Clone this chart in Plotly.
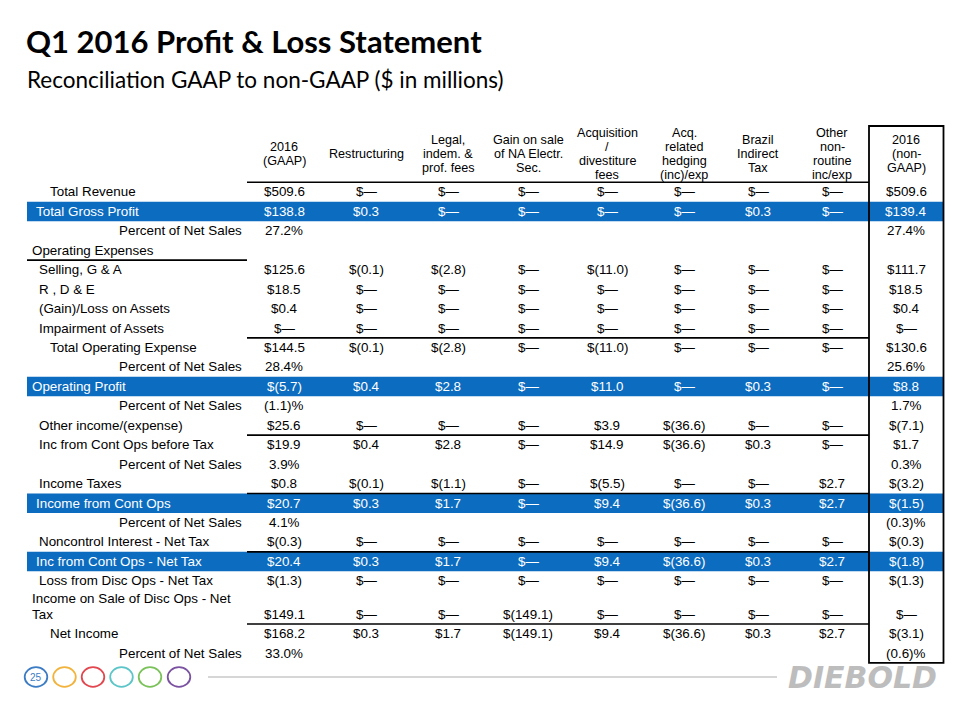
import plotly.graph_objects as go

# ---------------- data ----------------
title = "Q1 2016 Profit & Loss Statement"
subtitle = "Reconciliation GAAP to non-GAAP ($ in millions)"
page_number = "25"
logo_text = "DIEBOLD"

column_headers = [
    "2016<br>(GAAP)",
    "Restructuring",
    "Legal,<br>indem. &<br>prof. fees",
    "Gain on sale<br>of NA Electr.<br>Sec.",
    "Acquisition<br>/<br>divestiture<br>fees",
    "Acq.<br>related<br>hedging<br>(inc)/exp",
    "Brazil<br>Indirect<br>Tax",
    "Other<br>non-<br>routine<br>inc/exp",
    "2016<br>(non-<br>GAAP)",
]

row_labels = [
    "Total Revenue",
    "Total Gross Profit",
    "Percent of Net Sales",
    "Operating Expenses",
    "Selling, G & A",
    "R , D & E",
    "(Gain)/Loss on Assets",
    "Impairment of Assets",
    "Total Operating Expense",
    "Percent of Net Sales",
    "Operating Profit",
    "Percent of Net Sales",
    "Other income/(expense)",
    "Inc from Cont Ops before Tax",
    "Percent of Net Sales",
    "Income Taxes",
    "Income from Cont Ops",
    "Percent of Net Sales",
    "Noncontrol Interest - Net Tax",
    "Inc from Cont Ops - Net Tax",
    "Loss from Disc Ops - Net Tax",
    "Income on Sale of Disc Ops - Net<br>Tax",
    "Net Income",
    "Percent of Net Sales",
]

D = "$—"
gaap = ["$509.6", "$138.8", "27.2%", "", "$125.6", "$18.5", "$0.4", D, "$144.5", "28.4%",
        "$(5.7)", "(1.1)%", "$25.6", "$19.9", "3.9%", "$0.8", "$20.7", "4.1%", "$(0.3)",
        "$20.4", "$(1.3)", "$149.1", "$168.2", "33.0%"]
restructuring = [D, "$0.3", "", "", "$(0.1)", D, D, D, "$(0.1)", "", "$0.4", "", D, "$0.4", "",
                 "$(0.1)", "$0.3", "", D, "$0.3", D, D, "$0.3", ""]
legal_fees = [D, D, "", "", "$(2.8)", D, D, D, "$(2.8)", "", "$2.8", "", D, "$2.8", "",
              "$(1.1)", "$1.7", "", D, "$1.7", D, D, "$1.7", ""]
gain_on_sale = [D, D, "", "", D, D, D, D, D, "", D, "", D, D, "", D, D, "", D, D, D,
                "$(149.1)", "$(149.1)", ""]
acquisition_fees = [D, D, "", "", "$(11.0)", D, D, D, "$(11.0)", "", "$11.0", "", "$3.9", "$14.9", "",
                    "$(5.5)", "$9.4", "", D, "$9.4", D, D, "$9.4", ""]
hedging = [D, D, "", "", D, D, D, D, D, "", D, "", "$(36.6)", "$(36.6)", "", D, "$(36.6)", "",
           D, "$(36.6)", D, D, "$(36.6)", ""]
brazil_tax = [D, "$0.3", "", "", D, D, D, D, D, "", "$0.3", "", D, "$0.3", "", D, "$0.3", "",
              D, "$0.3", D, D, "$0.3", ""]
other_nonroutine = [D, D, "", "", D, D, D, D, D, "", D, "", D, D, "", "$2.7", "$2.7", "",
                    D, "$2.7", D, D, "$2.7", ""]
non_gaap = ["$509.6", "$139.4", "27.4%", "", "$111.7", "$18.5", "$0.4", D, "$130.6", "25.6%",
            "$8.8", "1.7%", "$(7.1)", "$1.7", "0.3%", "$(3.2)", "$(1.5)", "(0.3)%", "$(0.3)",
            "$(1.8)", "$(1.3)", D, "$(3.1)", "(0.6)%"]

columns = [gaap, restructuring, legal_fees, gain_on_sale, acquisition_fees,
           hedging, brazil_tax, other_nonroutine, non_gaap]

# ---------------- layout / style ----------------
PAGE_W, PAGE_H = 960, 720
BODY_MARGIN = 8          # browser default body margin offsets the figure
TABLE_FONT = "Liberation Sans, Arial, sans-serif"
TITLE_FONT = "Lato, Open Sans, sans-serif"
FS = 13.4
HEADER_FS = 12.6
BLUE = "#0C6CBF"
col_x = [284, 366, 448, 528, 607, 684, 758, 832, 906]
label_left = 27
label_right = 243
values_left = 247
box_x0, box_x1 = 869, 943.5
box_top = 126
header_bottom = 182.3
header_mid = 153.8
header_line_gap = 14.2
row_h = 19.45
tall_rows = {21: 33.3}
highlight_rows = {1, 10, 16, 19}
rule_below_rows = {7, 12, 15, 18, 21}
indent = {0: 49, 1: 35, 3: 31, 4: 38, 5: 38, 6: 38, 7: 38, 8: 49, 10: 31, 12: 38, 13: 38,
          15: 38, 16: 35, 18: 38, 19: 35, 20: 38, 21: 31, 22: 49}

# row geometry
row_top = []
y = header_bottom
for i in range(len(row_labels)):
    row_top.append(y)
    y += tall_rows.get(i, row_h)
table_bottom = y

shapes = []
annotations = []

def txt(x, y, s, size=FS, color="black", xanchor="center", family=TABLE_FONT, yanchor="middle"):
    annotations.append(dict(x=x, y=y, xref="x", yref="y", text=s, showarrow=False,
                            xanchor=xanchor, yanchor=yanchor, borderpad=0,
                            font=dict(family=family, size=size, color=color)))

# title
txt(label_left - 2, 41, "<b>" + title + "</b>", size=31, xanchor="left", family=TITLE_FONT)
txt(label_left - 1, 79, subtitle, size=22.5, xanchor="left", family=TITLE_FONT)

# blue bands
for r in highlight_rows:
    shapes.append(dict(type="rect", xref="x", yref="y", x0=label_left, x1=box_x1,
                       y0=row_top[r], y1=row_top[r] + row_h, fillcolor=BLUE,
                       line=dict(width=0), layer="below"))

# rules
shapes.append(dict(type="line", xref="x", yref="y", x0=values_left, x1=box_x0,
                   y0=header_bottom, y1=header_bottom, line=dict(color="black", width=1.6)))
shapes.append(dict(type="line", xref="x", yref="y", x0=label_left, x1=values_left,
                   y0=row_top[4], y1=row_top[4], line=dict(color="black", width=1.6)))
for r in rule_below_rows:
    yy = row_top[r] + tall_rows.get(r, row_h)
    shapes.append(dict(type="line", xref="x", yref="y", x0=values_left, x1=box_x0,
                       y0=yy, y1=yy, line=dict(color="black", width=1.6)))

# non-GAAP box
shapes.append(dict(type="rect", xref="x", yref="y", x0=box_x0, x1=box_x1,
                   y0=box_top, y1=table_bottom, line=dict(color="black", width=1.8)))

# headers (tight line spacing, one annotation per line)
for cx, h in zip(col_x, column_headers):
    lines = h.split("<br>")
    n = len(lines)
    for k, ln in enumerate(lines):
        txt(cx, header_mid + (k - (n - 1) / 2) * header_line_gap, ln, size=HEADER_FS)

# rows
for i, lab in enumerate(row_labels):
    top = row_top[i]
    hgt = tall_rows.get(i, row_h)
    yc = top + hgt - 9.9
    color = "white" if i in highlight_rows else "black"
    if lab == "Percent of Net Sales":
        txt(label_right, yc, lab, color=color, xanchor="right")
    else:
        parts = lab.split("<br>")
        for k, p in enumerate(parts):
            txt(indent[i], yc - (len(parts) - 1 - k) * 16, p, color=color, xanchor="left")
    for cx, col in zip(col_x, columns):
        if col[i]:
            txt(cx, yc, col[i], color=color)

# footer: circles, rule, logo
circle_colors = ["#3C7CC4", "#F2B33D", "#E2474F", "#5CC5C8", "#7BC25B", "#7A52A1"]
circle_x = [36, 64.5, 93, 121.5, 150, 179]
for cx, cc in zip(circle_x, circle_colors):
    shapes.append(dict(type="circle", xref="x", yref="y", x0=cx - 11.3, x1=cx + 11.3,
                       y0=677 - 9.8, y1=677 + 9.8, line=dict(color=cc, width=1.8)))
txt(circle_x[0], 677.5, page_number, size=10, color=circle_colors[0])
shapes.append(dict(type="line", xref="x", yref="y", x0=208, x1=777, y0=677, y1=677,
                   line=dict(color="#C8C8C8", width=1.5)))
txt(938, 677, "<b><i>" + logo_text + "</i></b>", size=30, color="#BDBDBD", xanchor="right",
    family="DejaVu Sans, sans-serif")

fig = go.Figure()
fig.update_layout(
    width=PAGE_W - BODY_MARGIN, height=PAGE_H - BODY_MARGIN,
    margin=dict(l=0, r=0, t=0, b=0),
    paper_bgcolor="white", plot_bgcolor="white",
    xaxis=dict(range=[BODY_MARGIN, PAGE_W], visible=False, fixedrange=True),
    yaxis=dict(range=[PAGE_H, BODY_MARGIN], visible=False, fixedrange=True),
    shapes=shapes, annotations=annotations, showlegend=False,
)
fig.write_html("out.html")
